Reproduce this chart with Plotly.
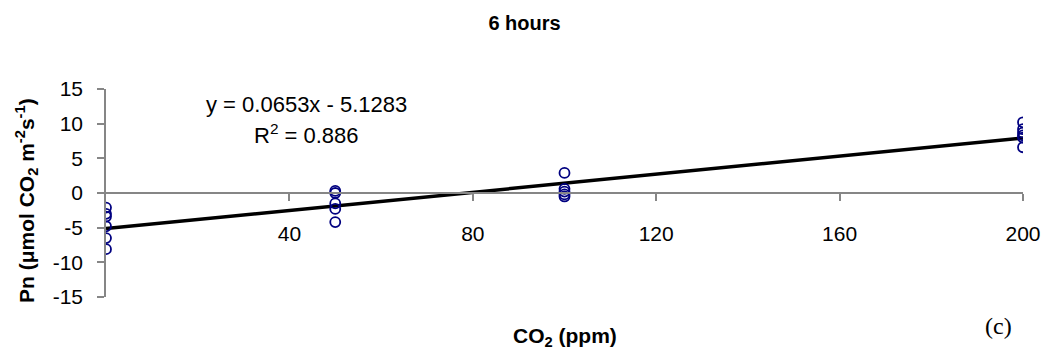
import plotly.graph_objects as go

# Data
co2_ppm = [0, 0, 0, 0, 0, 0,
           50, 50, 50, 50, 50,
           100, 100, 100, 100, 100,
           200, 200, 200, 200, 200, 200]
pn_values = [-2.1, -3.0, -3.4, -4.8, -6.5, -8.1,
             0.3, 0.0, -1.5, -2.3, -4.2,
             2.9, 0.6, 0.2, -0.2, -0.5,
             10.2, 9.2, 8.7, 8.3, 8.0, 6.6]

trend_slope = 0.0653
trend_intercept = -5.1283
trend_x = [0, 200]
trend_y = [trend_slope * v + trend_intercept for v in trend_x]

x_ticks = [40, 80, 120, 160, 200]
y_ticks = [-15, -10, -5, 0, 5, 10, 15]

W, H = 1049, 351
L, R, T, B = 106, 26, 89, 54
pw, ph = W - L - R, H - T - B

def px(xp):
    return (xp - L) / pw

def py(yp):
    return (H - B - yp) / ph

fig = go.Figure()
fig.add_trace(go.Scatter(
    x=trend_x, y=trend_y, mode="lines",
    line=dict(color="black", width=3.5), showlegend=False, hoverinfo="skip"))
fig.add_trace(go.Scatter(
    x=co2_ppm, y=pn_values, mode="markers",
    marker=dict(symbol="circle-open", size=10, color="#000080",
                line=dict(color="#000080", width=1.8)),
    showlegend=False))

font_main = "Liberation Sans, Arial, sans-serif"
axis_col = "#868686"

fig.update_layout(
    width=W, height=H,
    margin=dict(l=L, r=R, t=T, b=B, autoexpand=False),
    paper_bgcolor="white", plot_bgcolor="white",
    font=dict(family=font_main, size=20, color="black"),
    title=dict(text="<b>6 hours</b>", x=0.5, xanchor="center",
               y=1 - 23 / H, yanchor="middle", yref="container",
               font=dict(size=20, family=font_main, color="black")),
    xaxis=dict(range=[0, 200], tickvals=x_ticks, ticktext=[str(v) for v in x_ticks],
               showgrid=False, zeroline=False, showline=True,
               linecolor=axis_col, linewidth=1.5,
               ticks="outside", ticklen=7, tickcolor=axis_col, tickwidth=1.5,
               anchor="free", position=0.5, ticklabelstandoff=15,
               tickfont=dict(size=21, color="black")),
    yaxis=dict(range=[-15, 15], tickvals=y_ticks, ticktext=[str(v) for v in y_ticks],
               showgrid=False, zeroline=False, showline=True,
               linecolor=axis_col, linewidth=1.5,
               ticks="outside", ticklen=7, tickcolor=axis_col, tickwidth=1.5,
               ticklabelstandoff=10,
               tickfont=dict(size=21, color="black")),
)

annos = [
    dict(text="y = 0.0653x - 5.1283", x=px(306), y=py(105), font=dict(size=22)),
    dict(text="R<sup>2</sup> = 0.886", x=px(306), y=py(134), font=dict(size=22)),
    dict(text="<b>CO<sub>2</sub> (ppm)</b>", x=px(565), y=py(337), font=dict(size=21)),
    dict(text="<b>Pn (\u03bcmol CO<sub>2</sub> m<sup>-2</sup>s<sup>-1</sup>)</b>",
         x=px(26), y=py(201), textangle=-90, font=dict(size=21)),
    dict(text="(c)", x=px(998), y=py(326),
         font=dict(size=24, family="Liberation Serif, Times New Roman, serif")),
]
for a in annos:
    a.update(xref="paper", yref="paper", showarrow=False,
             xanchor="center", yanchor="middle")
    a["font"].setdefault("family", font_main)
    a["font"].setdefault("color", "black")
    fig.add_annotation(**a)

fig.write_html("out.html")
